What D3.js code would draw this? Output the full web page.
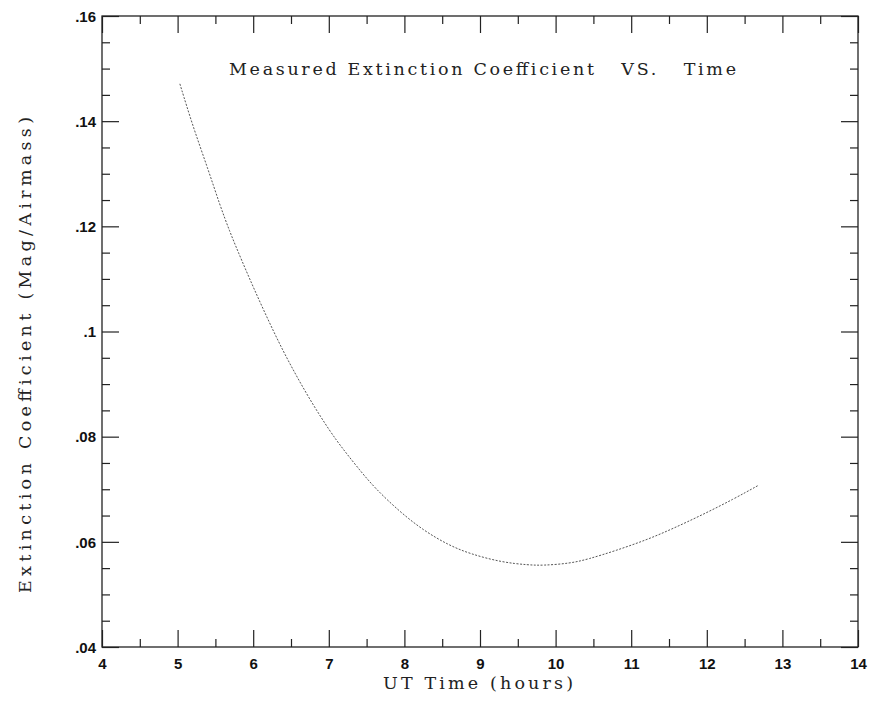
<!DOCTYPE html>
<html><head><meta charset="utf-8">
<script src="https://cdn.jsdelivr.net/npm/d3@7"></script>
<style>body{margin:0;background:#fff}svg{display:block}</style>
</head><body>
<script>
// ---- data ----
const timeHours = [5.03, 5.2, 5.4, 5.56, 5.69, 5.79, 6.0, 6.29, 6.5, 6.75, 7.02, 7.19, 7.4, 7.61, 7.94, 8.25, 8.58, 8.87, 9.29, 9.64, 9.83, 10.19, 10.43, 10.79, 11.21, 11.55, 11.95, 12.35, 12.69];
const extinction = [0.1471, 0.1391, 0.1310, 0.1240, 0.1190, 0.1155, 0.1084, 0.0993, 0.0934, 0.0870, 0.0809, 0.0776, 0.0738, 0.0702, 0.0657, 0.0622, 0.0594, 0.0577, 0.0561, 0.0556, 0.0555, 0.0559, 0.0567, 0.0583, 0.0604, 0.0625, 0.0652, 0.0681, 0.0708];
const xMajorTicks = [4, 5, 6, 7, 8, 9, 10, 11, 12, 13, 14];
const xMinorTicks = [4.5, 5.5, 6.5, 7.5, 8.5, 9.5, 10.5, 11.5, 12.5, 13.5];
const yMajorTicks = [0.04, 0.06, 0.08, 0.10, 0.12, 0.14, 0.16];
const yTickLabels = [".04", ".06", ".08", ".1", ".12", ".14", ".16"];
const yMinorTicks = [0.045, 0.05, 0.055, 0.065, 0.07, 0.075, 0.085, 0.09, 0.095, 0.105, 0.11, 0.115, 0.125, 0.13, 0.135, 0.145, 0.15, 0.155];
const titleText = "Measured Extinction Coefficient   VS.   Time";
const xLabel = "UT Time (hours)";
const yLabel = "Extinction Coefficient (Mag/Airmass)";

// ---- layout ----
const W = 869, H = 709;
const L = 102, R = 858, T = 16, B = 647;
const svg = d3.select("body").append("svg").attr("width", W).attr("height", H);
const x = d3.scaleLinear().domain([4, 14]).range([L, R]);
const y = d3.scaleLinear().domain([0.04, 0.16]).range([B, T]);

const serif = "'DejaVu Serif', 'Liberation Serif', serif";
const sans = "'Liberation Sans', Arial, sans-serif";

function styleAxis(g) {
  g.select(".domain").remove();
  g.selectAll(".tick line").attr("stroke", "#222").attr("stroke-width", 1.2);
}

// bottom axis (ticks inward)
svg.append("g").attr("transform", `translate(0,${B})`)
  .call(d3.axisBottom(x).tickValues(xMajorTicks).tickSize(-17).tickPadding(0).tickFormat(d3.format("d")))
  .call(styleAxis)
  .call(g => g.selectAll("text").attr("y", 22).attr("dy", 0)
      .attr("font-family", sans).attr("font-weight", "bold").attr("font-size", 15).attr("fill", "#111"));
svg.append("g").attr("transform", `translate(0,${B})`)
  .call(d3.axisBottom(x).tickValues(xMinorTicks).tickSize(-8).tickFormat(""))
  .call(styleAxis);
// top axis
svg.append("g").attr("transform", `translate(0,${T})`)
  .call(d3.axisTop(x).tickValues(xMajorTicks).tickSize(-17).tickFormat(""))
  .call(styleAxis);
svg.append("g").attr("transform", `translate(0,${T})`)
  .call(d3.axisTop(x).tickValues(xMinorTicks).tickSize(-8).tickFormat(""))
  .call(styleAxis);
// left axis
svg.append("g").attr("transform", `translate(${L},0)`)
  .call(d3.axisLeft(y).tickValues(yMajorTicks).tickSize(-17).tickPadding(0)
      .tickFormat((d, i) => yTickLabels[i]))
  .call(styleAxis)
  .call(g => g.selectAll("text").attr("x", -6).attr("dy", "0.35em")
      .attr("font-family", sans).attr("font-weight", "bold").attr("font-size", 15).attr("fill", "#111"));
svg.append("g").attr("transform", `translate(${L},0)`)
  .call(d3.axisLeft(y).tickValues(yMinorTicks).tickSize(-8).tickFormat(""))
  .call(styleAxis);
// right axis
svg.append("g").attr("transform", `translate(${R},0)`)
  .call(d3.axisRight(y).tickValues(yMajorTicks).tickSize(-17).tickFormat(""))
  .call(styleAxis);
svg.append("g").attr("transform", `translate(${R},0)`)
  .call(d3.axisRight(y).tickValues(yMinorTicks).tickSize(-8).tickFormat(""))
  .call(styleAxis);

// frame
svg.append("rect").attr("x", L).attr("y", T).attr("width", R - L).attr("height", B - T)
  .attr("fill", "none").attr("stroke", "#222").attr("stroke-width", 1.3);

// curve
const pts = timeHours.map((t, i) => [t, extinction[i]]);
svg.append("path").datum(pts)
  .attr("d", d3.line().x(d => x(d[0])).y(d => y(d[1])).curve(d3.curveBasis))
  .attr("fill", "none").attr("stroke", "#555").attr("stroke-width", 1)
  .attr("stroke-dasharray", "2,1.5");

// title
svg.append("text").attr("x", 229).attr("y", 75)
  .attr("font-family", serif).attr("font-size", 17.5).attr("fill", "#222")
  .attr("textLength", 507).attr("lengthAdjust", "spacing")
  .style("white-space", "pre").text(titleText);

// axis labels
svg.append("text").attr("x", 478).attr("y", 689).attr("text-anchor", "middle")
  .attr("font-family", serif).attr("font-size", 17.5).attr("fill", "#222")
  .attr("textLength", 190).attr("lengthAdjust", "spacing").text(xLabel);
svg.append("text").attr("transform", "translate(31,355) rotate(-90)").attr("text-anchor", "middle")
  .attr("font-family", serif).attr("font-size", 17.5).attr("fill", "#222")
  .attr("textLength", 476).attr("lengthAdjust", "spacing").text(yLabel);
</script>
</body></html>
